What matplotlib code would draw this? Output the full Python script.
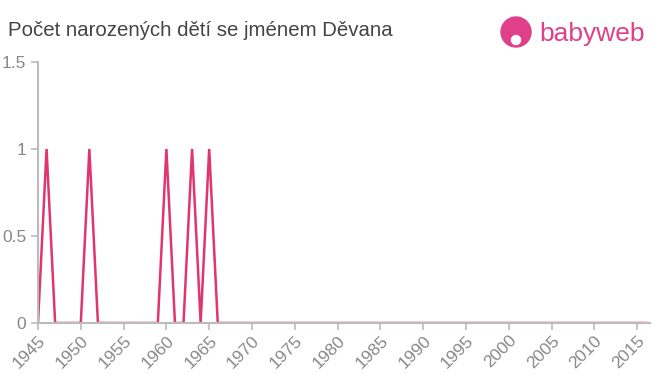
import matplotlib
matplotlib.use("Agg")
import matplotlib.pyplot as plt
from matplotlib.patches import Ellipse

plt.rcParams["font.family"] = ["Liberation Sans", "DejaVu Sans"]

years = list(range(1945, 2017))
births = [0] * len(years)
for y in [1946, 1951, 1960, 1963, 1965]:
    births[years.index(y)] = 1

xticks = list(range(1945, 2016, 5))
yticks = [0, 0.5, 1, 1.5]
ytick_labels = ["0", "0.5", "1", "1.5"]

fig = plt.figure(figsize=(6.6, 3.75), dpi=100)
ax = fig.add_axes([38 / 660, 1 - 323 / 375, (650 - 38) / 660, (323 - 62) / 375])

ax.plot(years, births, color="#e0356d", linewidth=1.8, solid_joinstyle="miter")
ax.set_xlim(1945, 2016.5)
ax.set_ylim(0, 1.5)
ax.set_xticks(xticks)
ax.set_xticklabels([str(x) for x in xticks], rotation=45, ha="right", rotation_mode="anchor")
ax.set_yticks(yticks)
ax.set_yticklabels(ytick_labels)

for s in ["top", "right"]:
    ax.spines[s].set_visible(False)
for s in ["left", "bottom"]:
    ax.spines[s].set_color("#bbbbbb")
    ax.spines[s].set_linewidth(1.5)
ax.tick_params(colors="#bbbbbb", labelcolor="#888888", labelsize=12.5, length=5, width=1.2)
ax.tick_params(axis="x", pad=2)

fig.text(8 / 660, 1 - 30 / 375, "Počet narozených dětí se jménem Děvana",
         fontsize=14.7, color="#444444", va="center", ha="left")

# logo
logo = "#e03f8a"
fig.patches.append(Ellipse((516 / 660, 1 - 32 / 375), 30 / 660, 30 / 375,
                           transform=fig.transFigure, color=logo))
fig.patches.append(Ellipse((516 / 660, 1 - 40 / 375), 9 / 660, 9 / 375,
                           transform=fig.transFigure, color="white"))
fig.text(539 / 660, 1 - 34 / 375, "babyweb", fontsize=19, color=logo, va="center", ha="left")

fig.savefig("out.png", dpi=100)
